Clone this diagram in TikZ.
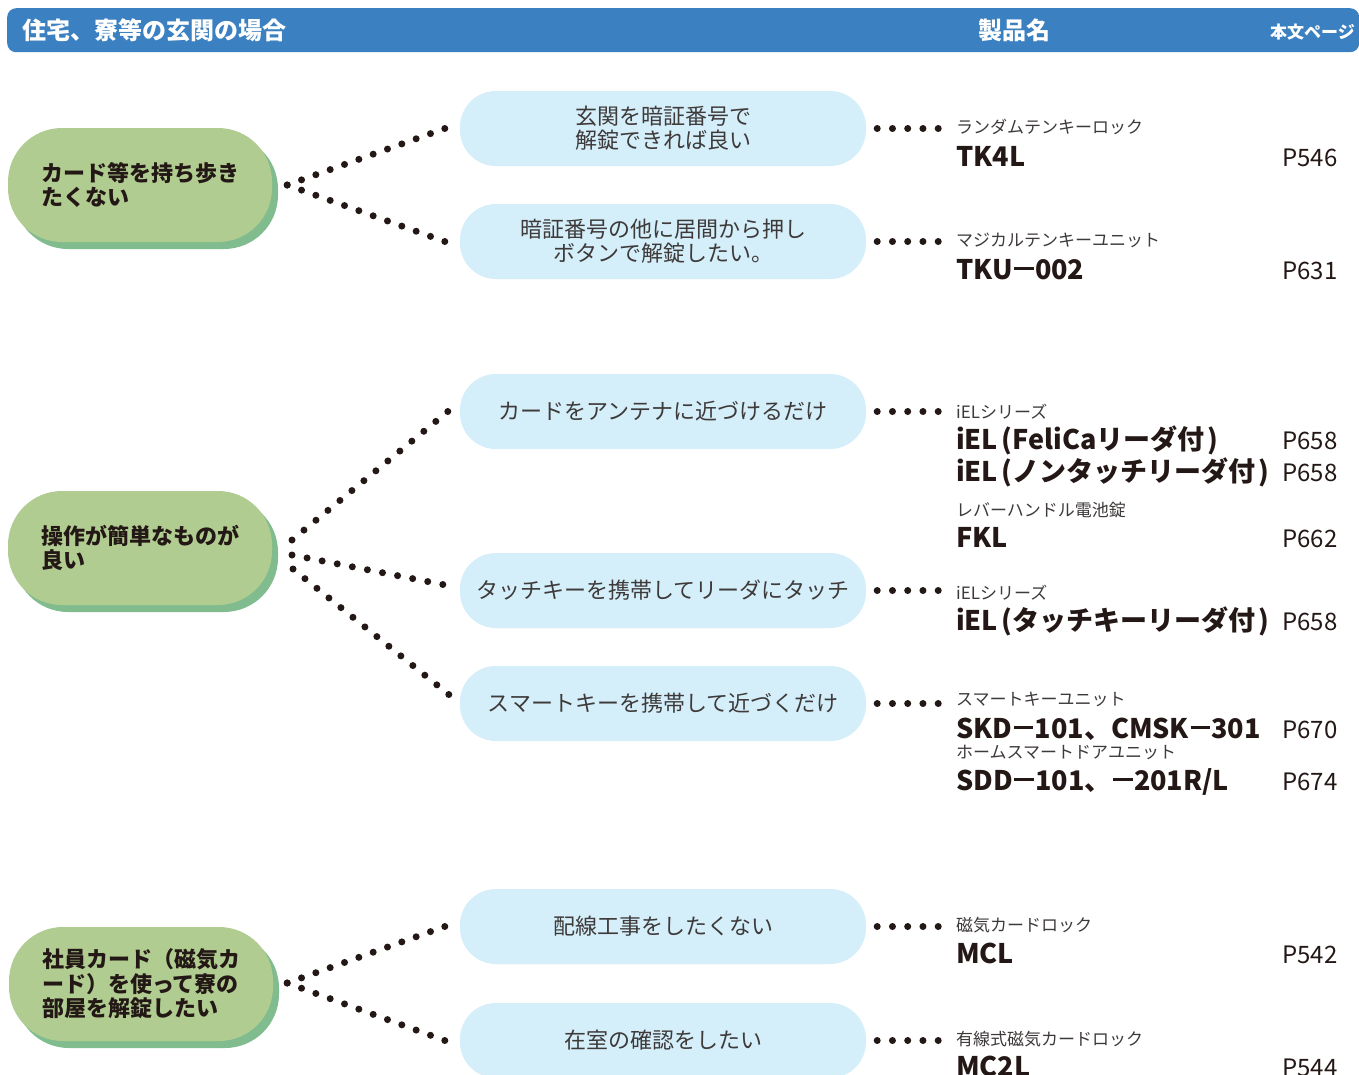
\documentclass[tikz,border=0pt]{standalone}
\usepackage{fontspec}
\setmainfont{Noto Sans CJK JP}
\usetikzlibrary{calc,shadows}
\definecolor{hdr}{RGB}{59,128,192}
\definecolor{gfill}{RGB}{176,204,144}
\definecolor{gshadow}{RGB}{128,188,142}
\definecolor{bfill}{RGB}{212,238,250}
\definecolor{ink}{RGB}{35,24,21}
\definecolor{soft}{RGB}{62,58,57}
\newcommand\mydotline[3]{\foreach \k in {0,...,#3}{\fill[ink] ($(#1)!{\k/#3}!(#2)$) circle[radius=3.5pt];}}
\newcommand\lp{\kern3pt(\kern1pt}
\newcommand\rp{\kern3pt)}
\newcommand\dsh{\kern1.5pt\rule[0.33em]{0.72em}{0.1em}\kern1.5pt}
\begin{document}
\begin{tikzpicture}[x=1pt,y=-1pt,
  gbox/.style={fill=gfill, rounded corners=54pt, minimum width=264pt, minimum height=114pt, inner sep=0pt, align=left, text=ink, font=\fontsize{22}{24.5}\selectfont\bfseries, general shadow={fill=gshadow, shadow xshift=6pt, shadow yshift=-7pt}},
  bbox/.style={fill=bfill, rounded corners=36pt, minimum width=406pt, minimum height=75pt, inner sep=0pt, align=center, text=soft, font=\fontsize{22}{24}\selectfont},
  sublabel/.style={anchor=base west, inner sep=0pt, text=soft, font=\fontsize{17}{17}\selectfont},
  pname/.style={anchor=base west, inner sep=0pt, text=ink, font=\fontsize{27}{27}\selectfont\bfseries},
  pnum/.style={anchor=base west, inner sep=0pt, text=ink, font=\fontsize{24}{24}\selectfont},
]
\useasboundingbox (0,0) rectangle (1359,1074);
\fill[white] (0,0) rectangle (1359,1074);
% header
\node[fill=hdr, rounded corners=9pt, minimum width=1352pt, minimum height=44pt, inner sep=0pt, anchor=north west] (hdr) at (7,8) {};
\node[anchor=west, text=white, font=\fontsize{24}{24}\selectfont\bfseries, inner sep=0pt] (ht1) at (22,30) {住宅、寮等の玄関の場合};
\node[text=white, font=\fontsize{24}{24}\selectfont\bfseries, inner sep=0pt] (ht2) at (1014,30) {製品名};
\node[anchor=east, text=white, font=\fontsize{17}{17}\selectfont\bfseries, inner sep=0pt] (ht3) at (1355,32) {本文ページ};
% green nodes
\node[gbox] (g1) at (140,185) {カード等を持ち歩き\\たくない};
\node[gbox] (g2) at (140,548) {操作が簡単なものが\\良い};
\node[gbox] (g3) at (141,984) {社員カード（磁気カ\\ード）を使って寮の\\部屋を解錠したい};
% blue nodes
\node[bbox] (b1) at (663,128.5) {玄関を暗証番号で\\解錠できれば良い};
\node[bbox] (b2) at (663,241.5) {暗証番号の他に居間から押し\\ボタンで解錠したい。};
\node[bbox] (b3) at (663,411.5) {カードをアンテナに近づけるだけ};
\node[bbox] (b4) at (663,590.5) {タッチキーを携帯してリーダにタッチ};
\node[bbox] (b5) at (663,703.5) {スマートキーを携帯して近づくだけ};
\node[bbox] (b6) at (663,926.5) {配線工事をしたくない};
\node[bbox] (b7) at (663,1040.5) {在室の確認をしたい};
% left dotted connectors
\coordinate (g1s) at ($(g1.east)+(15,0)$);
\coordinate (b1e) at ($(b1.west)+(-15,0)$);
\coordinate (b2e) at ($(b2.west)+(-15,0)$);
\mydotline{g1s}{b1e}{11}
\mydotline{g1s}{b2e}{11}
\coordinate (g2a) at (292,540);
\coordinate (g2b) at (292,555);
\coordinate (g2c) at (293,569);
\coordinate (b3e) at ($(b3.west)+(-12,0)$);
\coordinate (b4e) at ($(b4.west)+(-17,-6)$);
\coordinate (b5e) at ($(b5.west)+(-11,-9)$);
\mydotline{g2a}{b3e}{13}
\mydotline{g2b}{b4e}{10}
\mydotline{g2c}{b5e}{13}
\coordinate (g3s) at ($(g3.east)+(14,-1)$);
\coordinate (b6e) at ($(b6.west)+(-15,0)$);
\coordinate (b7e) at ($(b7.west)+(-15,0)$);
\mydotline{g3s}{b6e}{11}
\mydotline{g3s}{b7e}{11}
% right dotted connectors
\foreach \b in {b1,b2,b3,b4,b5,b6,b7}{
  \coordinate (\b ra) at ($(\b.east)+(11,0)$);
  \coordinate (\b rb) at ($(\b.east)+(72,0)$);
  \mydotline{\b ra}{\b rb}{4}
}
% product texts
\node[sublabel] (s1) at (956,133) {ランダムテンキーロック};
\node[pname] (p1) at (956,166) {TK4L};
\node[pnum] (n1) at (1282,166) {P546};
\node[sublabel] (s2) at (956,246) {マジカルテンキーユニット};
\node[pname] (p2) at (956,279) {TKU\dsh 002};
\node[pnum] (n2) at (1282,279) {P631};
\node[sublabel] (s3) at (956,418) {iELシリーズ};
\node[pname] (p3) at (956,449) {iEL\lp FeliCaリーダ付\rp};
\node[pnum] (n3) at (1282,449) {P658};
\node[pname] (p4) at (956,481) {iEL\lp ノンタッチリーダ付\rp};
\node[pnum] (n4) at (1282,481) {P658};
\node[sublabel] (s4) at (956,516) {レバーハンドル電池錠};
\node[pname] (p5) at (956,547) {FKL};
\node[pnum] (n5) at (1282,547) {P662};
\node[sublabel] (s5) at (956,599) {iELシリーズ};
\node[pname] (p6) at (956,630) {iEL\lp タッチキーリーダ付\rp};
\node[pnum] (n6) at (1282,630) {P658};
\node[sublabel] (s6) at (956,705) {スマートキーユニット};
\node[pname] (p7) at (956,738) {SKD\dsh 101、CMSK\dsh 301};
\node[pnum] (n7) at (1282,738) {P670};
\node[sublabel] (s7) at (956,758) {ホームスマートドアユニット};
\node[pname] (p8) at (956,790) {SDD\dsh 101、\dsh 201R/L};
\node[pnum] (n8) at (1282,790) {P674};
\node[sublabel] (s8) at (956,931) {磁気カードロック};
\node[pname] (p9) at (956,963) {MCL};
\node[pnum] (n9) at (1282,963) {P542};
\node[sublabel] (s9) at (956,1045) {有線式磁気カードロック};
\node[pname] (p10) at (956,1076) {MC2L};
\node[pnum] (n10) at (1282,1076) {P544};
\end{tikzpicture}
\end{document}
